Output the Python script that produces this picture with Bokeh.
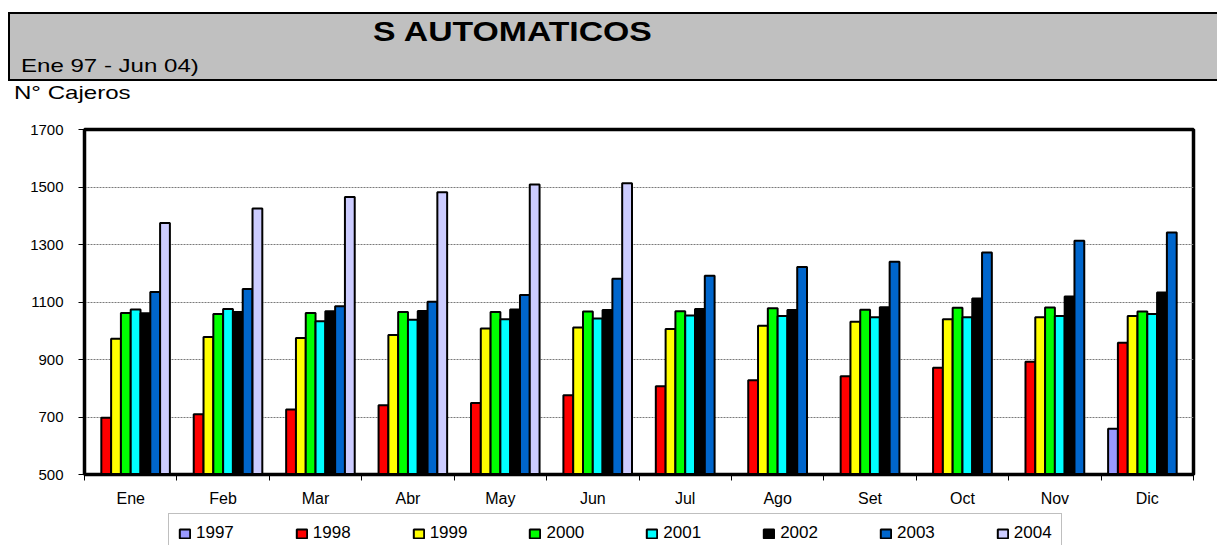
from bokeh.plotting import figure
from bokeh.models import (Range1d, FixedTicker, ColumnDataSource, Legend, LegendItem, Div)
from bokeh.layouts import column
from bokeh.transform import dodge
from bokeh.embed import file_html
from bokeh.resources import INLINE

# ---------------- data ----------------
months = ["Ene", "Feb", "Mar", "Abr", "May", "Jun", "Jul", "Ago", "Set", "Oct", "Nov", "Dic"]
years = ["1997", "1998", "1999", "2000", "2001", "2002", "2003", "2004"]

v1997 = [None, None, None, None, None, None, None, None, None, None, None, 659]
v1998 = [697, 710, 726, 741, 749, 776, 807, 828, 842, 871, 892, 958]
v1999 = [972, 978, 975, 985, 1008, 1011, 1006, 1017, 1031, 1040, 1047, 1051]
v2000 = [1062, 1058, 1062, 1065, 1065, 1067, 1068, 1078, 1073, 1080, 1081, 1067]
v2001 = [1074, 1076, 1033, 1038, 1040, 1043, 1053, 1051, 1047, 1047, 1051, 1058]
v2002 = [1061, 1065, 1068, 1069, 1074, 1072, 1076, 1072, 1082, 1112, 1119, 1133]
v2003 = [1135, 1145, 1085, 1101, 1124, 1181, 1191, 1222, 1240, 1272, 1313, 1342]
v2004 = [1375, 1425, 1465, 1482, 1509, 1513, None, None, None, None, None, None]

y_ticks = [500, 700, 900, 1100, 1300, 1500, 1700]

title_text = "S AUTOMATICOS"
subtitle_text = "Ene 97 - Jun 04)"
y_label_text = "N\u00b0 Cajeros"

series = [v1997, v1998, v1999, v2000, v2001, v2002, v2003, v2004]
colors = ["#9999FF", "#FF0000", "#FFFF00", "#00FF00", "#00FFFF", "#000000", "#0066CC", "#CCCCFF"]

FONT = "Liberation Sans"
W = 1217

# ---------------- header (gray band + texts) ----------------
header_html = f"""
<div style="position:relative;width:{W}px;height:110px;overflow:hidden;font-family:'{FONT}',Arial,sans-serif;color:#000;">
 <div style="position:absolute;left:8px;top:11.5px;width:1240px;height:69px;box-sizing:border-box;background:#C0C0C0;border-top:2.5px solid #000;border-left:2.5px solid #000;border-bottom:2.5px solid #000;"></div>
 <div style="position:absolute;left:0px;top:18.8px;width:1026px;text-align:center;font-size:27px;line-height:27px;font-weight:bold;white-space:nowrap;">
  <span style="display:inline-block;transform:scaleX(1.25);transform-origin:center;">{title_text}</span></div>
 <div style="position:absolute;left:21px;top:57.3px;font-size:18.5px;line-height:18.5px;white-space:nowrap;transform:scaleX(1.3);transform-origin:left;">{subtitle_text}</div>
 <div style="position:absolute;left:14px;top:84.3px;font-size:18.5px;line-height:18.5px;white-space:nowrap;transform:scaleX(1.3);transform-origin:left;">{y_label_text}</div>
</div>
"""
header = Div(text=header_html, width=W, height=110, margin=0)

# ---------------- chart ----------------
p = figure(width=W, height=399, x_range=Range1d(0, len(months)),
           y_range=Range1d(y_ticks[0], y_ticks[-1]),
           toolbar_location=None, output_backend="svg",
           min_border_left=84, min_border_right=24, min_border_top=19, min_border_bottom=35)
p.outline_line_color = "black"
p.outline_line_width = 3.5

# legend strip (its own small figure so the legend is not clipped by the chart frame)
lg = figure(width=W, height=36, x_range=Range1d(0, 1), y_range=Range1d(0, 1),
            x_axis_type=None, y_axis_type=None, toolbar_location=None,
            output_backend="svg", min_border_left=84, min_border_right=24,
            min_border_top=0, min_border_bottom=0, outline_line_color=None)
lg.grid.visible = False

centers = [i + 0.5 for i in range(len(months))]
bar_w = 0.106
items = []
for k, (yr, vals, col) in enumerate(zip(years, series, colors)):
    xs = [c for c, v in zip(centers, vals) if v is not None]
    ys = [v for v in vals if v is not None]
    src = ColumnDataSource(dict(xc=xs, val=ys))
    p.vbar(x=dodge("xc", (k - 3.5) * bar_w, range=p.x_range), top="val",
           bottom=0, width=bar_w, source=src, fill_color=col,
           line_color="black", line_width=2)
    # same series in the legend strip, hidden: only its legend swatch is drawn
    r = lg.vbar(x="xc", top="val", bottom=0, width=bar_w, source=src,
                fill_color=col, line_color="black", line_width=2, visible=False)
    items.append(LegendItem(label=yr, renderers=[r]))

# x axis: month labels at centres, ticks at month boundaries
xa = p.xaxis[0]
xa.ticker = FixedTicker(ticks=centers, minor_ticks=list(range(len(months) + 1)))
xa.major_label_overrides = {c: m for c, m in zip(centers, months)}
xa.major_tick_out = 0
xa.major_tick_in = 0
xa.minor_tick_out = 6
xa.minor_tick_in = 0
xa.minor_tick_line_color = "black"
xa.axis_line_color = "black"
xa.axis_line_width = 3
xa.major_label_standoff = 9
xa.major_label_text_font = FONT
xa.major_label_text_font_size = "16px"
xa.major_label_text_color = "black"

ya = p.yaxis[0]
ya.ticker = FixedTicker(ticks=y_ticks, minor_ticks=[])
ya.major_tick_out = 6
ya.major_tick_in = 0
ya.major_tick_line_color = "black"
ya.axis_line_color = "black"
ya.axis_line_width = 3
ya.major_label_standoff = 15
ya.major_label_text_font = FONT
ya.major_label_text_font_size = "15px"
ya.major_label_text_color = "black"

p.xgrid.visible = False
p.ygrid.ticker = FixedTicker(ticks=y_ticks)
p.ygrid.grid_line_color = "#7a7a7a"
p.ygrid.grid_line_width = 1
p.ygrid.grid_line_dash = "2 1"

legend = Legend(items=items, location=(84, -8), orientation="horizontal",
                label_text_font=FONT, label_text_font_size="17px",
                label_text_color="black", glyph_width=13, glyph_height=11,
                label_standoff=5, spacing=61, padding=9, margin=0,
                inactive_fill_alpha=0.0,
                border_line_color="#7f7f7f", border_line_width=1.5,
                background_fill_color="white", background_fill_alpha=1.0)
lg.add_layout(legend)

layout = column(header, p, lg, spacing=0)
open("out.html", "w").write(file_html(layout, INLINE))
